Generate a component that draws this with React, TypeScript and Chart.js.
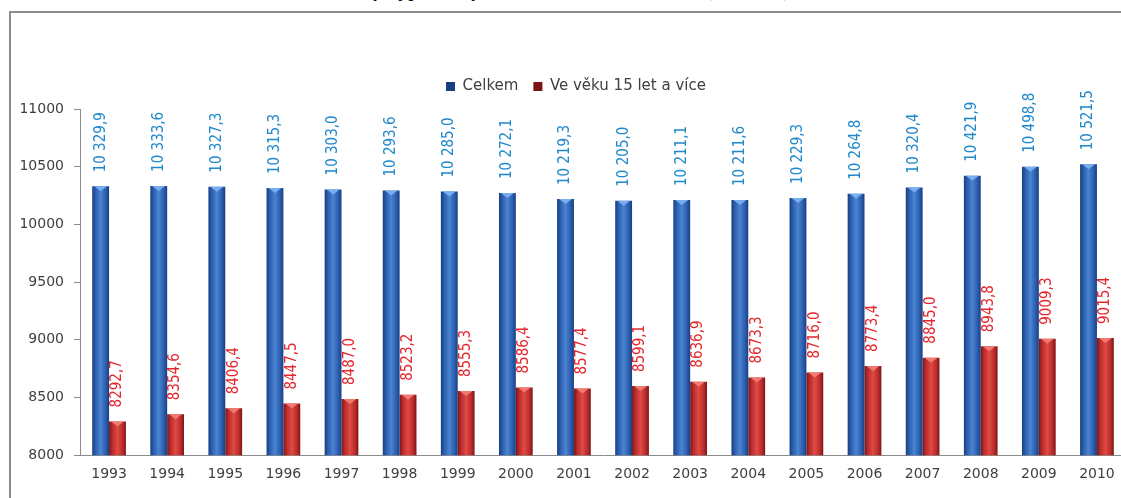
import React, { useEffect, useRef } from 'react';
import { Chart, registerables } from 'chart.js';

Chart.register(...registerables);

const titleText = 'Vývoj počtu obyvatel v ČR v letech 1993 - 2010 (v tis. osob)';
const years = ['1993', '1994', '1995', '1996', '1997', '1998', '1999', '2000', '2001', '2002', '2003', '2004', '2005', '2006', '2007', '2008', '2009', '2010'];
const celkem = [10329.9, 10333.6, 10327.3, 10315.3, 10303.0, 10293.6, 10285.0, 10272.1, 10219.3, 10205.0, 10211.1, 10211.6, 10229.3, 10264.8, 10320.4, 10421.9, 10498.8, 10521.5];
const nad15 = [8292.7, 8354.6, 8406.4, 8447.5, 8487.0, 8523.2, 8555.3, 8586.4, 8577.4, 8599.1, 8636.9, 8673.3, 8716.0, 8773.4, 8845.0, 8943.8, 9009.3, 9015.4];
const seriesNames = ['Celkem', 'Ve věku 15 let a více'];
const yMin = 8000;
const yMax = 11000;
const yStep = 500;

const CAT_PCT = 0.58;

const fmt = (v: number) => {
  const s = v.toFixed(1).replace('.', ',');
  const [i, d] = s.split(',');
  const ii = i.length > 4 ? i.slice(0, i.length - 3) + ' ' + i.slice(i.length - 3) : i;
  return ii + ',' + d;
};

const makeGrad = (stops: string[], side: number, solid: string) => (c: any) => {
  const chart = c.chart;
  const xs = chart.scales && chart.scales.x;
  if (c.type !== 'data' || !xs || !chart.chartArea) return solid;
  const catW = xs.width / years.length;
  const w = (catW * CAT_PCT) / 2;
  const cx = xs.getPixelForValue(c.dataIndex) + side * (w / 2);
  const g = chart.ctx.createLinearGradient(cx - w / 2, 0, cx + w / 2, 0);
  g.addColorStop(0, stops[0]);
  g.addColorStop(0.18, stops[1]);
  g.addColorStop(0.5, stops[2]);
  g.addColorStop(0.82, stops[1]);
  g.addColorStop(1, stops[0]);
  return g;
};

const legendShiftPlugin = {
  id: 'legendShift',
  beforeLayout(chart: any) {
    const lg = chart.legend;
    if (!lg || lg.__patched) return;
    const orig = lg.fit;
    lg.fit = function () {
      orig.call(this);
      this.height += 5;
    };
    lg.__patched = true;
  },
  afterLayout(chart: any) {
    const lg = chart.legend;
    if (!lg) return;
    lg.left += 8;
    lg.right += 8;
    if (lg.legendHitBoxes) lg.legendHitBoxes.forEach((b: any) => { b.left += 8; });
  },
};

const capsPlugin = {
  id: 'caps',
  afterDatasetsDraw(chart: any) {
    const ctx = chart.ctx;
    const capColors = ['#78aef0', '#f07a72'];
    chart.data.datasets.forEach((ds: any, di: number) => {
      const meta = chart.getDatasetMeta(di);
      meta.data.forEach((el: any) => {
        const p = el.getProps(['x', 'y', 'width'], true);
        ctx.save();
        ctx.fillStyle = capColors[di];
        ctx.beginPath();
        ctx.moveTo(p.x - p.width / 2 + 2, p.y);
        ctx.lineTo(p.x + p.width / 2 - 2, p.y);
        ctx.lineTo(p.x, p.y + 5);
        ctx.closePath();
        ctx.fill();
        ctx.restore();
      });
    });
  },
};

const labelsPlugin = {
  id: 'vlabels',
  afterDatasetsDraw(chart: any) {
    const ctx = chart.ctx;
    const colors = ['#2089cc', '#e5262c'];
    chart.data.datasets.forEach((ds: any, di: number) => {
      const meta = chart.getDatasetMeta(di);
      meta.data.forEach((el: any, i: number) => {
        const p = el.getProps(['x', 'y'], true);
        ctx.save();
        ctx.translate(p.x, p.y - 14);
        ctx.rotate(-Math.PI / 2);
        ctx.font = "15px 'Liberation Sans Narrow', 'DejaVu Sans Condensed', sans-serif";
        ctx.fillStyle = colors[di];
        ctx.textAlign = 'left';
        ctx.textBaseline = 'middle';
        ctx.fillText(fmt(ds.data[i]), 0, 0);
        ctx.restore();
      });
    });
  },
};

export default function App() {
  const ref = useRef<HTMLCanvasElement>(null);

  useEffect(() => {
    if (!ref.current) return;
    const chart = new Chart(ref.current, {
      type: 'bar',
      data: {
        labels: years,
        datasets: [
          {
            label: seriesNames[0],
            data: celkem,
            backgroundColor: makeGrad(['#173e80', '#2a5cab', '#4a84d2'], -1, '#3a72c4'),
            categoryPercentage: CAT_PCT,
            barPercentage: 1.0,
          },
          {
            label: seriesNames[1],
            data: nad15,
            backgroundColor: makeGrad(['#7a1414', '#b82a2a', '#e04a44'], 1, '#c83232'),
            categoryPercentage: CAT_PCT,
            barPercentage: 1.0,
          },
        ],
      },
      options: {
        responsive: false,
        animation: false,
        devicePixelRatio: 1,
        layout: { padding: { top: 51, left: 0, right: 16, bottom: 4 } },
        plugins: {
          tooltip: { enabled: false },
          legend: {
            position: 'top',
            labels: {
              boxWidth: 9,
              boxHeight: 9,
              padding: 15,
              color: '#404040',
              font: { family: "'DejaVu Sans', sans-serif", size: 15 },
            },
          },
        },
        scales: {
          x: {
            grid: { display: false, drawTicks: false },
            border: { display: true, color: '#8c8c8c', width: 1 },
            ticks: {
              color: '#404040',
              padding: 11,
              maxRotation: 0,
              font: { family: "'DejaVu Sans', sans-serif", size: 14 },
            },
          },
          y: {
            min: yMin,
            max: yMax,
            afterFit: (s: any) => {
              s.width = 70;
            },
            grid: { drawOnChartArea: false, drawTicks: true, tickLength: 6, color: '#8c8c8c' },
            border: { display: true, color: '#8c8c8c', width: 1 },
            ticks: {
              stepSize: yStep,
              color: '#404040',
              padding: 10,
              font: { family: "'DejaVu Sans', sans-serif", size: 14 },
              callback: (v: any) => String(v),
            },
          },
        },
      },
      plugins: [legendShiftPlugin, capsPlugin, labelsPlugin],
    });
    return () => chart.destroy();
  }, []);

  return (
    <div style={{ position: 'absolute', left: 0, top: 0, width: 1121, height: 498, overflow: 'hidden', background: '#fff' }}>
      <div
        style={{
          position: 'absolute',
          left: 0,
          top: -18,
          width: 1150,
          textAlign: 'center',
          fontFamily: "'Liberation Serif', 'DejaVu Serif', serif",
          fontWeight: 'bold',
          fontSize: 17,
          lineHeight: '20px',
          color: '#000',
          whiteSpace: 'nowrap',
        }}
      >
        {titleText}
      </div>
      <div
        style={{
          position: 'absolute',
          left: 9,
          top: 11,
          width: 1200,
          height: 600,
          borderTop: '2px solid #8c8c8c',
          borderLeft: '2px solid #8c8c8c',
          background: '#fff',
        }}
      />
      <canvas ref={ref} width={1132} height={485} style={{ position: 'absolute', left: 10, top: 13 }} />
    </div>
  );
}
